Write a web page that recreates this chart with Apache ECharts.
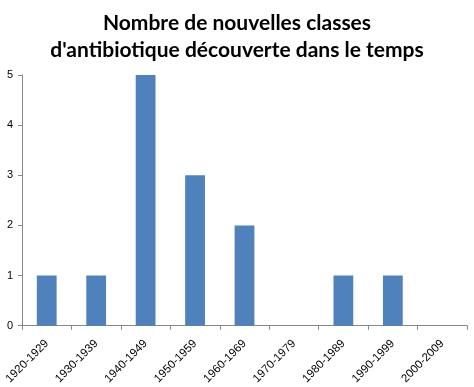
<!DOCTYPE html>
<html><head><meta charset="utf-8">
<script src="https://cdn.jsdelivr.net/npm/echarts@6/dist/echarts.min.js"></script>
<style>html,body{margin:0;padding:0;background:#fff}#c{width:474px;height:387px}</style>
</head><body><div id="c"></div>
<script>
const categories = ['1920-1929','1930-1939','1940-1949','1950-1959','1960-1969','1970-1979','1980-1989','1990-1999','2000-2009'];
const values = [1,1,5,3,2,0,1,1,0];
const titleLines = ['Nombre de nouvelles classes', "d'antibiotique découverte dans le temps"];
const chart = echarts.init(document.getElementById('c'));
chart.setOption({
  animation:false,
  title:{text:titleLines.join('\n'), left:'center', top:5,
    textStyle:{fontFamily:'Lato', fontWeight:'bold', fontSize:21, color:'#000', lineHeight:27}},
  grid:{left:22, right:7, top:75, bottom:61},
  xAxis:{type:'category', data:categories,
    axisLine:{lineStyle:{color:'#888'}},
    axisTick:{show:true, alignWithLabel:false, length:4, lineStyle:{color:'#888'}},
    axisLabel:{rotate:45, interval:0, fontSize:11.5, color:'#000', fontFamily:'Liberation Sans', margin:16}},
  yAxis:{type:'value', min:0, max:5, interval:1,
    splitLine:{show:false},
    axisLine:{show:true, lineStyle:{color:'#888'}},
    axisTick:{show:true, length:4, lineStyle:{color:'#888'}},
    axisLabel:{fontSize:11, color:'#000', fontFamily:'Liberation Sans', margin:9}},
  series:[{type:'bar', data:values, barWidth:'40%', itemStyle:{color:'#4F81BD'}}]
});
</script></body></html>
